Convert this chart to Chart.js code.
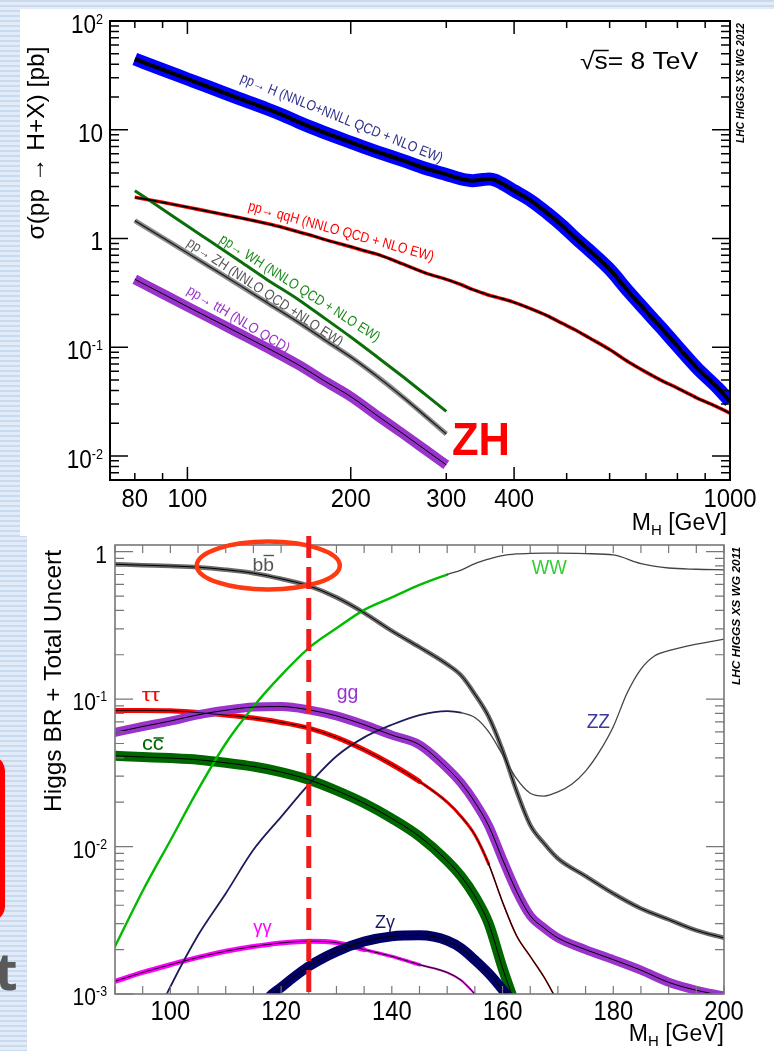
<!DOCTYPE html>
<html>
<head>
<meta charset="utf-8">
<script src="https://cdn.jsdelivr.net/npm/chart.js"></script>
<style>
html,body{margin:0;padding:0}
body{width:774px;height:1051px;position:relative;overflow:hidden;
background:repeating-linear-gradient(180deg,#c9daef 0px,#c9daef 2px,#e2ebf7 2px,#e2ebf7 5px);}
.panel{position:absolute;background:#fff}
#p1{left:20px;top:9px;width:754px;height:527px}
#p2{left:27px;top:536px;width:747px;height:515px}
#redbox{position:absolute;left:-45px;top:755px;width:40px;height:157px;border:5px solid #ff0000;border-radius:16px}
#tletter{position:absolute;left:-5px;top:944px;font:bold 52px "Open Sans","Liberation Sans",sans-serif;color:#595959;line-height:1}
canvas{display:block}
</style>
</head>
<body>
<div class="panel" id="p1"><canvas id="c1" width="754" height="527"></canvas></div>
<div class="panel" id="p2"><canvas id="c2" width="747" height="515"></canvas></div>
<div id="redbox"></div>
<div id="tletter">t</div>
<script>
// ================= DATA: top chart, sigma(pp -> H+X) [pb], sqrt(s)=8 TeV =================
const massH  = [80,90,100,110,125,140,150,160,170,180,190,200,210,225,250,275,300,320,335,350,360,370,380,400,430,460,490,520,550,600,650,700,750,800,870,950,1000];
const xsGGF  = [44.7,35.7,29.3,24.5,19.2,15.6,13.6,11.8,10.4,9.3,8.4,7.65,7.0,6.2,5.2,4.4,3.88,3.52,3.4,3.48,3.52,3.42,3.2,2.75,2.22,1.72,1.32,1.0,0.78,0.52,0.325,0.215,0.147,0.102,0.064,0.042,0.0316];
const xsVBF  = [2.39,2.15,1.94,1.76,1.55,1.37,1.26,1.15,1.06,0.97,0.9,0.84,0.78,0.71,0.58,0.48,0.42,0.375,0.34,0.315,0.30,0.29,0.279,0.258,0.225,0.195,0.166,0.143,0.122,0.095,0.073,0.059,0.049,0.042,0.034,0.028,0.0247];
const massV  = [80,90,100,110,125,140,160,180,200,225,250,275,300];
const xsWH   = [2.75,1.86,1.30,0.947,0.617,0.42,0.275,0.181,0.124,0.0796,0.0531,0.0364,0.0257];
const xsZH   = [1.459,1.016,0.735,0.548,0.369,0.258,0.17,0.115,0.0813,0.0526,0.0345,0.0231,0.0159];
const xsTTH  = [0.421,0.31,0.236,0.185,0.133,0.099,0.069,0.048,0.0351,0.023,0.0159,0.0113,0.00826];
const topXTickLabels = [80,100,200,300,400,1000];
const topXTicks = [80,90,100,200,300,400,500,600,700,800,900,1000];
const topXMajor = [100,200,400,1000];
const topYTickLabels = [{v:100,b:'10',e:'2'},{v:10,b:'10',e:''},{v:1,b:'1',e:''},{v:0.1,b:'10',e:'-1'},{v:0.01,b:'10',e:'-2'}];

// ================= DATA: bottom chart, Higgs BR =================
const massBR = [90,95,100,105,110,115,120,125,130,135,140,145,150,152.5,155,157.5,160,162.5,165,167.5,170,175,180,185,190,195,200];
const brBB   = [0.822,0.81,0.80,0.785,0.755,0.715,0.655,0.586,0.49,0.385,0.29,0.225,0.172,0.145,0.108,0.076,0.045,0.024,0.014,0.0105,0.0083,0.0063,0.0048,0.0038,0.0032,0.0027,0.0024];
const brWW   = [0.0021,0.0050,0.0110,0.0243,0.050,0.089,0.145,0.222,0.302,0.403,0.49,0.596,0.70,0.75,0.83,0.89,0.94,0.965,0.975,0.977,0.977,0.97,0.95,0.83,0.775,0.76,0.753];
const brGG   = [0.0594,0.0652,0.071,0.0783,0.084,0.0883,0.089,0.0846,0.077,0.067,0.057,0.049,0.034,0.027,0.020,0.0138,0.0082,0.005,0.0034,0.0028,0.0024,0.002,0.00171,0.00145,0.0012,0.00106,0.00097];
const massZZ = [95,100,105,110,115,120,125,130,135,140,145,150,152.5,155,157.5,160,162.5,165,167.5,170,172.5,175,177.5,180,182.5,185,187.5,190,195,200];
const brZZ   = [0.00045,0.00112,0.0025,0.0048,0.0095,0.0159,0.0264,0.041,0.055,0.067,0.078,0.083,0.081,0.075,0.060,0.042,0.029,0.023,0.022,0.0235,0.0265,0.0325,0.044,0.065,0.11,0.16,0.197,0.213,0.236,0.255];
const massTT = [90,95,100,105,110,115,120,125,130,135,140,145,150,152.5,155,157.5,160,162.5,165,167.5,170,172.5];
const brTT   = [0.0838,0.0838,0.0835,0.081,0.078,0.0744,0.0695,0.0636,0.055,0.0453,0.036,0.0276,0.020,0.016,0.012,0.0076,0.0042,0.0025,0.0018,0.0013,0.00088,0.0006];
const massCC = [90,95,100,105,110,115,120,125,130,135,140,145,150,152.5,155,157.5,160,162.5,165];
const brCC   = [0.0413,0.0405,0.0398,0.0388,0.037,0.0349,0.032,0.0284,0.024,0.0197,0.0155,0.0117,0.008,0.0063,0.0046,0.003,0.0015,0.0008,0.0004];
const massAA = [90,95,100,105,110,115,120,125,130,135,140,145,150,152.5,155,157.5,160];
const brAA   = [0.00122,0.0014,0.00158,0.00177,0.00195,0.0021,0.00222,0.00228,0.00223,0.002,0.0018,0.00158,0.0014,0.00124,0.001,0.0008,0.0006];
const massZA = [115,117.5,120,125,130,135,140,145,147.5,150,152.5,155,157.5,160,162.5,165];
const brZA   = [0.0006,0.00092,0.00111,0.00154,0.00194,0.00227,0.00246,0.0025,0.00245,0.0023,0.00205,0.0017,0.00138,0.00107,0.0008,0.0005];
const botXTickLabels = [100,120,140,160,180,200];
const botYTickLabels = [{v:1,b:'1',e:''},{v:0.1,b:'10',e:'-1'},{v:0.01,b:'10',e:'-2'},{v:0.001,b:'10',e:'-3'}];
const refMass = 125;

// ================= helpers =================
const FONT = '"Liberation Sans", Arial, Helvetica, sans-serif';
function txt(ctx, s, x, y, o) {
  ctx.save();
  ctx.font = `${o.style||'normal'} ${o.weight||'normal'} ${o.size}px ${o.family||FONT}`;
  ctx.fillStyle = o.color || '#000';
  ctx.textBaseline = 'alphabetic'; ctx.textAlign = 'left';
  const w = ctx.measureText(s).width;
  const sx = o.width ? o.width / w : (o.sx || 1);
  ctx.translate(x, y);
  if (o.rot) ctx.rotate(o.rot * Math.PI / 180);
  ctx.scale(sx, 1);
  let dx = 0;
  if (o.align === 'center') dx = -w / 2; else if (o.align === 'right') dx = -w;
  ctx.fillText(s, dx, 0);
  ctx.restore();
  return {w: w * sx, sx: sx};
}
function rich(ctx, parts, x, y, o) {
  ctx.save();
  let total = 0; const ws = [];
  for (const p of parts) { ctx.font = `${p.size}px ${FONT}`; const w = ctx.measureText(p.t).width; ws.push(w); total += w; }
  const sx = o.width ? o.width / total : (o.sx || 1);
  ctx.translate(x, y);
  if (o.rot) ctx.rotate(o.rot * Math.PI / 180);
  ctx.scale(sx, 1);
  let cx = o.align === 'right' ? -total : (o.align === 'center' ? -total / 2 : 0);
  ctx.fillStyle = o.color || '#000'; ctx.textBaseline = 'alphabetic'; ctx.textAlign = 'left';
  parts.forEach((p, i) => { ctx.font = `${p.size}px ${FONT}`; ctx.fillText(p.t, cx, p.dy || 0); cx += ws[i]; });
  ctx.restore();
}
function logTicks(min, max) {
  const out = [];
  for (let e = -4; e <= 3; e++) for (let m = 1; m <= 9; m++) {
    const v = m * Math.pow(10, e);
    if (v >= min * 0.999 && v <= max * 1.001) out.push({v: v, major: m === 1});
  }
  return out;
}
function mk(xs, ys, color, width, order, extra) {
  return Object.assign({
    data: xs.map((x, i) => ({x: x, y: ys[i]})),
    borderColor: color, borderWidth: width, order: order,
    pointRadius: 0, pointHoverRadius: 0, fill: false,
    cubicInterpolationMode: 'monotone', clip: 0,
    borderCapStyle: 'butt', borderJoinStyle: 'round'
  }, extra || {});
}

const framePlugin = {
  id: 'frame',
  afterDatasetsDraw(chart, args, o) {
    const ctx = chart.ctx, a = chart.chartArea, xs = chart.scales.x, ys = chart.scales.y;
    ctx.save();
    ctx.strokeStyle = o.color; ctx.lineWidth = o.tickWidth;
    ctx.beginPath();
    for (const t of o.xTicks) {
      const p = xs.getPixelForValue(t.v);
      const L = t.major ? o.xMajor : o.xMinor;
      ctx.moveTo(p, a.bottom); ctx.lineTo(p, a.bottom - L);
      ctx.moveTo(p, a.top); ctx.lineTo(p, a.top + L);
    }
    for (const t of o.yTicks) {
      const p = ys.getPixelForValue(t.v);
      const L = t.major ? o.yMajor : o.yMinor;
      ctx.moveTo(a.left, p); ctx.lineTo(a.left + L, p);
      ctx.moveTo(a.right, p); ctx.lineTo(a.right - L, p);
    }
    ctx.stroke();
    ctx.lineWidth = o.borderWidth;
    ctx.strokeRect(a.left, a.top, a.right - a.left, a.bottom - a.top);
    for (const v of o.xLabels) {
      txt(ctx, String(v), xs.getPixelForValue(v), o.xLabelY, {size: o.xLabelSize, sx: o.xLabelSx, align: 'center'});
    }
    for (const t of o.yLabels) {
      const p = ys.getPixelForValue(t.v);
      const parts = [{t: t.b, size: o.yLabelSize}];
      if (t.e) parts.push({t: t.e, size: o.ySupSize, dy: o.ySupDy});
      rich(ctx, parts, o.yLabelRight, p + o.yBaseOff, {align: 'right', sx: o.yLabelSx});
    }
    ctx.restore();
  }
};

// ================= top chart annotations =================
const topCurveLabels = [
  {text: 'pp\u2192 H (NNLO+NNLL QCD + NLO EW)', m: 124.7, v: 27.7, angle: 22, width: 217, color: '#2e2e8a'},
  {text: 'pp\u2192 qqH (NNLO QCD + NLO EW)', m: 129, v: 1.83, angle: 15.5, width: 192, color: '#ff0000'},
  {text: 'pp\u2192 WH (NNLO QCD + NLO EW)', m: 114.2, v: 0.935, angle: 32.5, width: 187, color: '#1a8a1a'},
  {text: 'pp\u2192 ZH (NNLO QCD +NLO EW)', m: 99.4, v: 0.87, angle: 33.6, width: 184, color: '#555555'},
  {text: 'pp\u2192 ttH (NLO QCD)', m: 99.4, v: 0.315, angle: 31, width: 117, color: '#9933cc'}
];
const annTop = {
  id: 'annTop',
  afterDraw(chart) {
    const ctx = chart.ctx, xs = chart.scales.x, ys = chart.scales.y;
    for (const L of topCurveLabels) {
      txt(ctx, L.text, xs.getPixelForValue(L.m), ys.getPixelForValue(L.v), {size: 14.5, color: L.color, rot: L.angle, width: L.width});
    }
    const r = txt(ctx, '\u221As= 8 TeV', 560, 60, {size: 23, width: 118});
    ctx.save();
    ctx.font = `23px ${FONT}`;
    const wr = ctx.measureText('\u221A').width * r.sx, wsd = ctx.measureText('s').width * r.sx;
    ctx.strokeStyle = '#000'; ctx.lineWidth = 1.5;
    ctx.beginPath(); ctx.moveTo(560 + wr - 1, 41.5); ctx.lineTo(560 + wr + wsd + 1, 41.5); ctx.stroke();
    ctx.restore();
    txt(ctx, 'ZH', 432, 446, {size: 46, weight: 'bold', color: '#ff0000', width: 58});
    txt(ctx, 'LHC HIGGS XS WG 2012', 724, 74, {size: 10, weight: 'bold', style: 'italic', rot: -90, align: 'center', width: 120});
    txt(ctx, '\u03C3(pp \u2192 H+X) [pb]', 24, 134, {size: 24, rot: -90, align: 'center', width: 193});
    rich(ctx, [{t: 'M', size: 23}, {t: 'H', size: 15, dy: 5}, {t: ' [GeV]', size: 23}], 707, 521, {align: 'right'});
  }
};

// ================= bottom chart annotations =================
const annBot = {
  id: 'annBot',
  afterDraw(chart) {
    const ctx = chart.ctx, xs = chart.scales.x, a = chart.chartArea;
    txt(ctx, 'bb', 225.5, 35, {size: 19, color: '#555', width: 21.5});
    ctx.save(); ctx.strokeStyle = '#555'; ctx.lineWidth = 1.4;
    ctx.beginPath(); ctx.moveTo(225.5 + 11, 19.5); ctx.lineTo(225.5 + 21.5, 19.5); ctx.stroke(); ctx.restore();
    txt(ctx, 'WW', 504.7, 38.3, {size: 20, color: '#33cc33', width: 35});
    txt(ctx, 'ZZ', 559.7, 191.7, {size: 20, color: '#3b3b9e', width: 23.3});
    txt(ctx, '\u03C4\u03C4', 114.7, 165, {size: 19, color: '#ff0000', width: 18.3});
    txt(ctx, 'gg', 309.7, 163.3, {size: 21, color: '#9933cc', width: 21.6});
    txt(ctx, 'cc', 115, 214, {size: 20, color: '#006600', width: 21.7});
    ctx.save(); ctx.strokeStyle = '#006600'; ctx.lineWidth = 1.5;
    ctx.beginPath(); ctx.moveTo(115 + 11.5, 202); ctx.lineTo(115 + 21.7, 202); ctx.stroke(); ctx.restore();
    txt(ctx, '\u03B3\u03B3', 226.3, 396.7, {size: 18, color: '#ff00ff', width: 18.4});
    txt(ctx, 'Z\u03B3', 348, 391.7, {size: 19, color: '#1a1a66', width: 20});
    txt(ctx, 'LHC HIGGS XS WG 2011', 713, 80, {size: 11, weight: 'bold', style: 'italic', rot: -90, align: 'center', width: 138});
    txt(ctx, 'Higgs BR + Total Uncert', 34, 145, {size: 24, rot: -90, align: 'center', width: 262});
    rich(ctx, [{t: 'M', size: 23}, {t: 'H', size: 15, dy: 5}, {t: ' [GeV]', size: 23}], 697, 505, {align: 'right'});
    ctx.save();
    ctx.strokeStyle = '#ff3a12'; ctx.lineWidth = 4.5;
    ctx.beginPath(); ctx.ellipse(241.3, 29.5, 71.5, 24, 0, 0, Math.PI * 2); ctx.stroke();
    const px = xs.getPixelForValue(refMass);
    ctx.strokeStyle = '#ee1c1c'; ctx.lineWidth = 5; ctx.setLineDash([22, 9]);
    ctx.beginPath(); ctx.moveTo(px, 0); ctx.lineTo(px, a.bottom); ctx.stroke();
    ctx.restore();
  }
};

// ================= top chart =================
const dsTop = [
  mk(massH, xsGGF, '#000000', 4, 1),
  mk(massH, xsGGF, '#0000ff', 13, 10),
  mk(massH, xsVBF, '#000000', 1.8, 1),
  mk(massH, xsVBF, '#ff0000', 3.6, 10),
  mk(massV, xsWH, '#0b6e0b', 3, 5),
  mk(massV, xsZH, '#222222', 1.4, 1),
  mk(massV, xsZH, '#8c8c8c', 5, 10),
  mk(massV, xsTTH, '#000000', 1, 1),
  mk(massV, xsTTH, '#9933cc', 10, 10)
];
new Chart(document.getElementById('c1'), {
  type: 'line',
  data: {datasets: dsTop},
  options: {
    responsive: false, animation: false, devicePixelRatio: 1, events: [],
    layout: {padding: {left: 0, right: 44, top: 12, bottom: 0}},
    scales: {
      x: {type: 'logarithmic', min: 72, max: 1000, ticks: {display: false}, grid: {display: false}, border: {display: false}, afterFit: s => { s.height = 56; }},
      y: {type: 'logarithmic', min: 0.006, max: 100, ticks: {display: false}, grid: {display: false}, border: {display: false}, afterFit: s => { s.width = 90; }}
    },
    plugins: {
      legend: {display: false}, tooltip: {enabled: false},
      frame: {
        color: '#000', tickWidth: 1.5, borderWidth: 2,
        xTicks: topXTicks.map(v => ({v: v, major: topXMajor.includes(v)})), xMajor: 13, xMinor: 7,
        yTicks: logTicks(0.006, 100), yMajor: 18, yMinor: 9,
        xLabels: topXTickLabels, xLabelY: 498, xLabelSize: 26, xLabelSx: 0.92,
        yLabels: topYTickLabels, yLabelRight: 83, yBaseOff: 12, yLabelSize: 25, ySupSize: 14, ySupDy: -9, yLabelSx: 0.9
      }
    }
  },
  plugins: [framePlugin, annTop]
});

// ================= bottom chart =================
const R = {borderCapStyle: 'round'};
const dsBot = [
  mk(massBR, brBB, '#000000', 1, 2, R),
  mk(massBR, brGG, '#000000', 1, 2, R),
  mk(massTT, brTT, '#000000', 0.9, 2, R),
  mk(massCC, brCC, '#000000', 1, 2, R),
  mk(massAA, brAA, '#000000', 0.9, 2, R),
  mk(massZA, brZA, '#000000', 1, 2, R),
  mk(massBR, brWW, '#00bb00', 2.4, 11, {borderCapStyle: 'round', segment: {
    borderColor: c => massBR[c.p0DataIndex] >= 150 ? '#444444' : '#00bb00',
    borderWidth: c => massBR[c.p0DataIndex] >= 150 ? 1.3 : 2.4}}),
  mk(massZZ, brZZ, '#1c1c5c', 1.8, 12, {borderCapStyle: 'round', segment: {
    borderColor: c => massZZ[c.p0DataIndex] >= 152.5 ? '#444444' : '#1c1c5c',
    borderWidth: c => massZZ[c.p0DataIndex] >= 152.5 ? 1.3 : 1.8}}),
  mk(massBR, brBB, '#6a6a6a', 4.5, 15, R),
  mk(massZA, brZA, '#000066', 10, 16, R),
  mk(massAA, brAA, '#ff00ff', 5, 17, {borderCapStyle: 'round', segment: {
    borderColor: c => massAA[c.p0DataIndex] >= 145 ? '#cc22cc' : '#ff00ff',
    borderWidth: c => massAA[c.p0DataIndex] >= 145 ? 2.2 : (massAA[c.p0DataIndex] >= 135 ? 3.5 : 5)}}),
  mk(massBR, brGG, '#9933cc', 9, 18, R),
  mk(massTT, brTT, '#ff0000', 5, 19, {borderCapStyle: 'round', segment: {
    borderColor: c => massTT[c.p0DataIndex] >= 157.5 ? '#a00000' : '#ff0000',
    borderWidth: c => massTT[c.p0DataIndex] >= 157.5 ? 1.6 : (massTT[c.p0DataIndex] >= 145 ? 3 : 5)}}),
  mk(massCC, brCC, '#006600', 10, 20, R)
];
new Chart(document.getElementById('c2'), {
  type: 'line',
  data: {datasets: dsBot},
  options: {
    responsive: false, animation: false, devicePixelRatio: 1, events: [],
    layout: {padding: {left: 0, right: 50, top: 9, bottom: 0}},
    scales: {
      x: {type: 'linear', min: 90, max: 200, ticks: {display: false}, grid: {display: false}, border: {display: false}, afterFit: s => { s.height = 57; }},
      y: {type: 'logarithmic', min: 0.001, max: 1.11, ticks: {display: false}, grid: {display: false}, border: {display: false}, afterFit: s => { s.width = 88; }}
    },
    plugins: {
      legend: {display: false}, tooltip: {enabled: false},
      frame: {
        color: '#777', tickWidth: 1.2, borderWidth: 1.6,
        xTicks: Array.from({length: 23}, (_, i) => ({v: 90 + 5 * i, major: false})), xMajor: 8, xMinor: 8,
        yTicks: logTicks(0.001, 1.11), yMajor: 18, yMinor: 9,
        xLabels: botXTickLabels, xLabelY: 484, xLabelSize: 28, xLabelSx: 0.85,
        yLabels: botYTickLabels, yLabelRight: 80, yBaseOff: 11, yLabelSize: 24, ySupSize: 14, ySupDy: -9, yLabelSx: 0.88
      }
    }
  },
  plugins: [framePlugin, annBot]
});
</script>
</body>
</html>
